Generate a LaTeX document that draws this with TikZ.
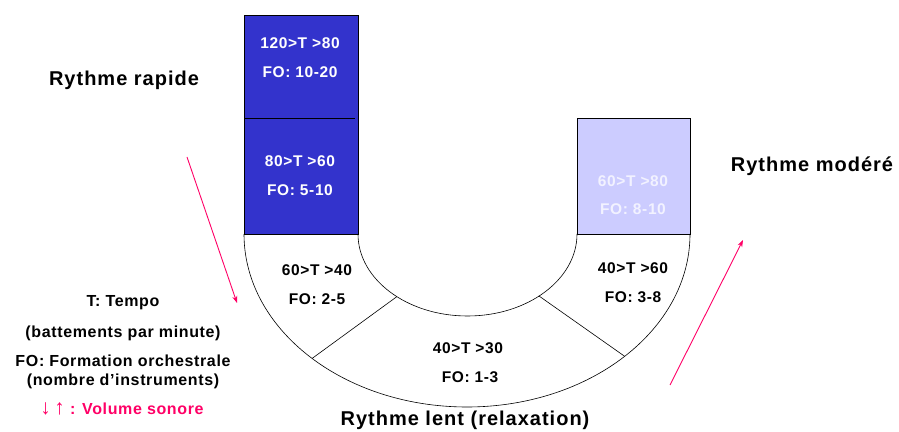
\documentclass[tikz,border=0pt]{standalone}
\usepackage{fontspec}
\setmainfont{Liberation Sans}
\usetikzlibrary{arrows.meta}
\definecolor{darkblue}{HTML}{3333CC}
\definecolor{paleblue}{HTML}{CCCCFF}
\definecolor{palefg}{HTML}{F2F2FF}
\definecolor{pink}{HTML}{FF0066}
\tikzset{
  cell/.style={font=\bfseries\fontsize{15.5}{18}\selectfont\addfontfeature{LetterSpace=4}, inner sep=0pt, anchor=center},
  title/.style={font=\bfseries\fontsize{20}{24}\selectfont\addfontfeature{LetterSpace=5}, inner sep=0pt},
  legend/.style={font=\bfseries\fontsize{16}{19}\selectfont\addfontfeature{LetterSpace=4}, inner sep=0pt},
  volume/.style={draw=pink, line width=0.9pt, -{Stealth[length=7pt,width=5pt]}},
  band/.style={draw=black, line width=0.6pt}
}
\begin{document}
\begin{tikzpicture}[x=1pt,y=1pt]
\useasboundingbox (0,0) rectangle (899,431);

% fast tempo column
\filldraw[fill=darkblue, draw=black, line width=0.6pt] (244,197) rectangle (358,416);
\draw[black, line width=0.8pt] (244,313) -- (355,313);

% moderate tempo box
\filldraw[fill=paleblue, draw=black, line width=0.6pt] (577,197) rectangle (690,313);

% slow band: half ring between two ellipses
\draw[band] (244,197) arc[start angle=180, end angle=360, x radius=223, y radius=173];
\draw[band] (358,197) arc[start angle=180, end angle=360, x radius=109.5, y radius=82];
\draw[band] ({467+109.5*cos(230)},{197+82*sin(230)}) -- ({467+223*cos(226)},{197+173*sin(226)});
\draw[band] ({467+109.5*cos(311)},{197+82*sin(311)}) -- ({467+223*cos(315)},{197+173*sin(315)});

% cell labels
\node[cell, white] (t1) at (300,388) {120>T >80};
\node[cell, white] (f1) at (300,359) {FO: 10-20};
\node[cell, white] (t2) at (300,270) {80>T >60};
\node[cell, white] (f2) at (300,241) {FO: 5-10};
\node[cell, palefg] (t6) at (633,250) {60>T >80};
\node[cell, palefg] (f6) at (633,222) {FO: 8-10};
\node[cell] (t3) at (317,161) {60>T >40};
\node[cell] (f3) at (317,132) {FO: 2-5};
\node[cell] (t4) at (468,83) {40>T >30};
\node[cell] (f4) at (470,54) {FO: 1-3};
\node[cell] (t5) at (633,163) {40>T >60};
\node[cell] (f5) at (633,134) {FO: 3-8};

% section titles
\node[title] (rapide) at (124,351) {Rythme rapide};
\node[title] (modere) at (812,265) {Rythme modéré};
\node[title] (lent) at (465,11) {Rythme lent (relaxation)};

% legend
\node[legend] (l1) at (123,128) {T: Tempo};
\node[legend] (l2) at (123,98) {(battements par minute)};
\node[legend] (l3) at (123,70) {FO: Formation orchestrale};
\node[legend] (l4) at (123,50) {(nombre d’instruments)};
\node[legend, pink] (l5) at (122,22) {{\fontsize{21}{21}\selectfont ↓\,↑} : Volume sonore};

% volume arrows
\coordinate (a1s) at (187,274);
\coordinate (a1e) at (237,128);
\coordinate (a2s) at (670,46);
\coordinate (a2e) at (743,191);
\draw[volume] (a1s) -- (a1e);
\draw[volume] (a2s) -- (a2e);
\end{tikzpicture}
\end{document}
